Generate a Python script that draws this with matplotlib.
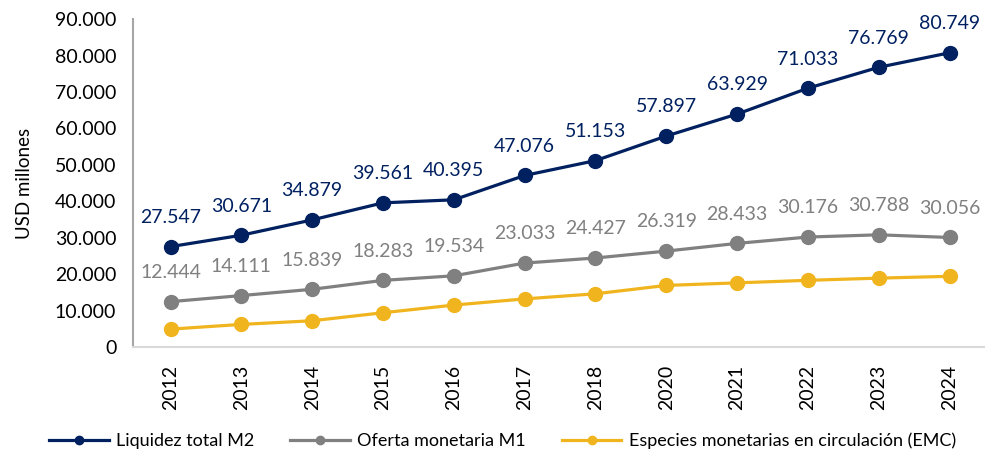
import matplotlib.pyplot as plt
from matplotlib.ticker import FuncFormatter

years = ["2012", "2013", "2014", "2015", "2016", "2017", "2018",
         "2020", "2021", "2022", "2023", "2024"]
m2 = [27547, 30671, 34879, 39561, 40395, 47076, 51153,
      57897, 63929, 71033, 76769, 80749]
m1 = [12444, 14111, 15839, 18283, 19534, 23033, 24427,
      26319, 28433, 30176, 30788, 30056]
emc = [4900, 6200, 7200, 9400, 11500, 13200, 14600,
       16900, 17600, 18300, 18900, 19400]

navy = "#002060"
gray = "#808080"
gold = "#F0B51E"

plt.rcParams['font.family'] = ['Lato', 'DejaVu Sans']

def miles(v, pos=None):
    return f"{v:,.0f}".replace(",", ".")

fig = plt.figure(figsize=(9.85, 4.54), dpi=100)
ax = fig.add_axes([0.135, 0.2357, 0.865, 0.7223])

x = list(range(len(years)))
ax.plot(x, m2, color=navy, lw=2.3, marker='o', ms=10, label="Liquidez total M2")
ax.plot(x, m1, color=gray, lw=2.3, marker='o', ms=10, label="Oferta monetaria M1")
ax.plot(x, emc, color=gold, lw=2.3, marker='o', ms=10,
        label="Especies monetarias en circulación (EMC)")

for xi, v in zip(x, m2):
    ax.annotate(miles(v), (xi, v), xytext=(0, 21), textcoords='offset points',
                ha='center', va='center', color=navy, fontsize=14)
for xi, v in zip(x, m1):
    ax.annotate(miles(v), (xi, v), xytext=(0, 21), textcoords='offset points',
                ha='center', va='center', color=gray, fontsize=14)

ax.set_xlim(-0.53, 11.5)
ax.set_ylim(0, 90000)
ax.set_yticks(range(0, 90001, 10000))
ax.yaxis.set_major_formatter(FuncFormatter(miles))
ax.set_xticks(x)
ax.set_xticklabels(years, rotation=90)
ax.tick_params(axis='both', length=0, labelsize=14, colors='black')
ax.tick_params(axis='x', pad=13)
ax.tick_params(axis='y', pad=12)
ax.set_ylabel("USD millones", fontsize=13.5, labelpad=16)

for side in ['top', 'right']:
    ax.spines[side].set_visible(False)
ax.spines['left'].set_color('#A6A6A6')
ax.spines['left'].set_linewidth(1.5)
ax.spines['bottom'].set_color('#D9D9D9')
ax.spines['bottom'].set_linewidth(1.5)

leg = fig.legend(loc='lower center', bbox_to_anchor=(0.51, -0.025), ncol=3,
                 frameon=False, fontsize=13, handlelength=3.3, columnspacing=2.0,
                 handletextpad=0.4, markerscale=0.6)

fig.savefig("out.png", dpi=100)
